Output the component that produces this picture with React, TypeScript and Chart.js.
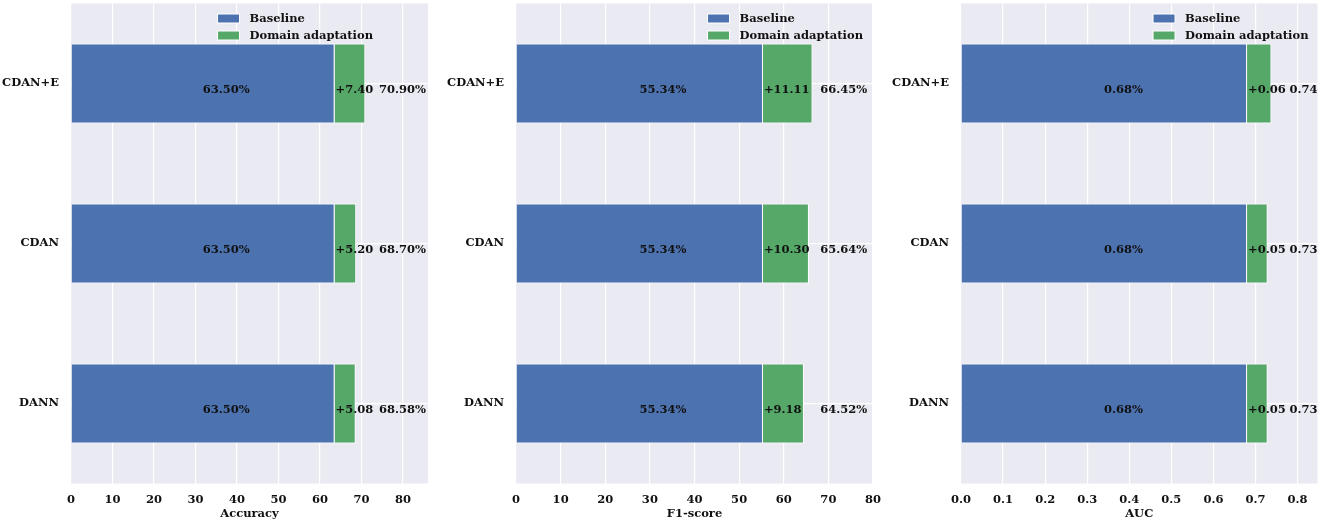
import { useEffect, useRef } from "react";
import { Chart, registerables } from "chart.js";

Chart.register(...registerables);

// methods, top row first
const methods = ["CDAN+E", "CDAN", "DANN"];

const accBaseline = [63.5, 63.5, 63.5];
const accGain = [7.4, 5.2, 5.08];
const f1Baseline = [55.34, 55.34, 55.34];
const f1Gain = [11.11, 10.3, 9.18];
const aucBaseline = [0.68, 0.68, 0.68];
const aucGain = [0.058, 0.049, 0.049];

const accTicks = [0, 10, 20, 30, 40, 50, 60, 70, 80];
const f1Ticks = [0, 10, 20, 30, 40, 50, 60, 70, 80];
const aucTicks = [0, 0.1, 0.2, 0.3, 0.4, 0.5, 0.6, 0.7, 0.8];

const BLUE = "#4C72B0";
const GREEN = "#55A868";
const FONT = "'DejaVu Serif', serif";
const SIZE = 11.5;

const panels = [
	{
		title: "Accuracy",
		baseline: accBaseline,
		gain: accGain,
		ticks: accTicks,
		max: 86,
		decimals: 0,
		totalX: 74.2,
		totalPct: true,
		legendGap: 55,
		left: 0,
		width: 440,
		yWidth: 71,
		rightPad: 12,
	},
	{
		title: "F1-score",
		baseline: f1Baseline,
		gain: f1Gain,
		ticks: f1Ticks,
		max: 80,
		decimals: 0,
		totalX: 68.2,
		totalPct: true,
		legendGap: 10,
		left: 440,
		width: 445,
		yWidth: 76,
		rightPad: 12,
	},
	{
		title: "AUC",
		baseline: aucBaseline,
		gain: aucGain,
		ticks: aucTicks,
		max: 0.8475,
		decimals: 1,
		totalX: 0.781,
		totalPct: false,
		legendGap: 9,
		left: 885,
		width: 440,
		yWidth: 76,
		rightPad: 7.5,
	},
];

const Panel = ({ p }): JSX.Element => {
	const chartRef = useRef<HTMLCanvasElement | null>(null);

	useEffect(() => {
		const decor = {
			id: "decor",
			beforeDraw(chart) {
				const { ctx, chartArea: a } = chart;
				ctx.save();
				ctx.fillStyle = "#EAEAF2";
				ctx.fillRect(a.left, a.top, a.right - a.left, a.bottom - a.top);
				ctx.restore();
			},
			afterDatasetsDraw(chart) {
				const { ctx } = chart;
				const xs = chart.scales.x;
				const ys = chart.scales.y;
				ctx.save();
				ctx.font = `bold ${SIZE}px ${FONT}`;
				ctx.fillStyle = "#111";
				ctx.textAlign = "left";
				ctx.textBaseline = "alphabetic";
				methods.forEach((m, i) => {
					const yc = ys.getPixelForValue(i) + 9.8;
					const b = p.baseline[i];
					const g = p.gain[i];
					const t = b + g;
					ctx.fillText(`${b.toFixed(2)}%`, xs.getPixelForValue(b / 2), yc);
					ctx.fillText(`+${g.toFixed(2)}`, xs.getPixelForValue(b) + 1, yc);
					ctx.fillText(
						p.totalPct ? `${t.toFixed(2)}%` : t.toFixed(2),
						xs.getPixelForValue(p.totalX),
						yc
					);
				});
				ctx.restore();
			},
			afterDraw(chart) {
				// legend drawn inside the plot, top right
				const { ctx, chartArea: a } = chart;
				const sets = chart.data.datasets;
				ctx.save();
				ctx.font = `bold 11.5px ${FONT}`;
				const textW = Math.max(...sets.map((d) => ctx.measureText(d.label).width));
				const x0 = a.right - p.legendGap - textW - 32;
				sets.forEach((d, i) => {
					const cy = a.top + 15 + i * 17;
					ctx.fillStyle = d.backgroundColor;
					ctx.fillRect(x0, cy - 4.5, 22, 9);
					ctx.strokeStyle = "#fff";
					ctx.lineWidth = 1;
					ctx.strokeRect(x0, cy - 4.5, 22, 9);
					ctx.fillStyle = "#111";
					ctx.textAlign = "left";
					ctx.textBaseline = "middle";
					ctx.fillText(d.label, x0 + 32, cy + 0.5);
				});
				ctx.restore();
			},
		};

		const chart = new Chart(chartRef.current.getContext("2d"), {
			type: "bar",
			data: {
				labels: methods,
				datasets: [
					{
						label: "Baseline",
						data: p.baseline,
						backgroundColor: BLUE,
						borderColor: "#fff",
						borderWidth: 1,
						barPercentage: 0.5,
						categoryPercentage: 1,
					},
					{
						label: "Domain adaptation",
						data: p.gain,
						backgroundColor: GREEN,
						borderColor: "#fff",
						borderWidth: 1,
						barPercentage: 0.5,
						categoryPercentage: 1,
					},
				],
			},
			options: {
				indexAxis: "y",
				responsive: false,
				maintainAspectRatio: false,
				animation: false,
				layout: { padding: { top: 3.5, right: p.rightPad, left: 0, bottom: 0 } },
				plugins: {
					legend: { display: false },
					tooltip: { enabled: false },
				},
				scales: {
					x: {
						type: "linear",
						stacked: true,
						min: 0,
						max: p.max,
						afterBuildTicks: (s) => {
							s.ticks = p.ticks.map((v) => ({ value: v }));
						},
						afterFit: (s) => {
							s.height = 41.5;
							s.paddingLeft = 0;
							s.paddingRight = 0;
						},
						grid: { color: "#fff", lineWidth: 1.2, drawTicks: false },
						border: { display: false },
						ticks: {
							padding: 10,
							color: "#111",
							font: { family: FONT, size: SIZE, weight: "bold" },
							callback: (v) => Number(v).toFixed(p.decimals),
						},
						title: {
							display: true,
							text: p.title,
							color: "#111",
							font: { family: FONT, size: SIZE, weight: "bold" },
							padding: { top: 0, bottom: 4.5 },
						},
					},
					y: {
						stacked: true,
						offset: true,
						afterFit: (s) => {
							s.width = p.yWidth;
							s.paddingTop = 0;
							s.paddingBottom = 0;
						},
						grid: { color: "#fff", lineWidth: 1.2, drawTicks: false, offset: false },
						border: { display: false },
						ticks: {
							padding: 12,
							color: "#111",
							font: { family: FONT, size: SIZE, weight: "bold" },
						},
					},
				},
			},
			plugins: [decor],
		});

		return () => {
			chart.destroy();
		};
	}, [p]);

	return (
		<canvas
			ref={chartRef}
			width={p.width}
			height={525}
			style={{ position: "absolute", left: p.left, top: 0, width: p.width, height: 525 }}
		/>
	);
};

const App = (): JSX.Element => {
	return (
		<div style={{ position: "fixed", left: 0, top: 0, width: 1325, height: 525, background: "#fff" }}>
			{panels.map((p) => (
				<Panel key={p.title} p={p} />
			))}
		</div>
	);
};

export default App;
